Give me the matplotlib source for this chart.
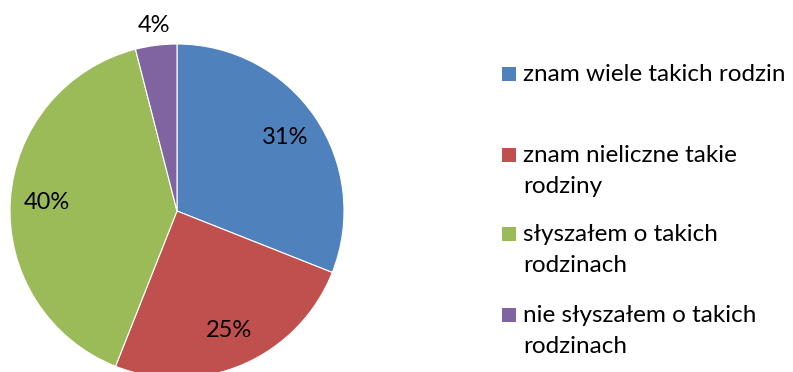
import numpy as np
import matplotlib.pyplot as plt
from matplotlib.patches import Rectangle

# shares of answers (percent)
labels = ["znam wiele takich rodzin", "znam nieliczne takie\nrodziny",
          "słyszałem o takich\nrodzinach", "nie słyszałem o takich\nrodzinach"]
shares = [31, 25, 40, 4]
colors = ["#4F81BD", "#C0504D", "#9BBB59", "#8064A2"]

plt.rcParams['font.family'] = ['Lato', 'DejaVu Sans']

fig = plt.figure(figsize=(7.93, 3.72), dpi=100)
ax = fig.add_axes([0, 0, 1, 1])

cx, cy, r = 177, 161, 167
wedges, texts, pcts = ax.pie(shares, colors=colors, startangle=90, counterclock=False,
                             center=(cx, cy), radius=r, autopct='%d%%',
                             pctdistance=0.78, frame=True,
                             wedgeprops=dict(edgecolor='white', linewidth=0.8),
                             textprops=dict(fontsize=17, color='black'))
ax.set_xlim(0, 793)
ax.set_ylim(0, 372)
ax.set_aspect('equal')
ax.axis('off')

# small slice label sits outside the pie
w = wedges[3]
mid = np.deg2rad((w.theta1 + w.theta2) / 2)
pcts[3].set_position((cx + 1.12 * r * np.cos(mid), cy + 1.12 * r * np.sin(mid)))

# legend drawn by hand, one text per line so the first line sits next to the box
legend_y = [298, 217, 138, 57]
for lab, col, y in zip(labels, colors, legend_y):
    ax.add_patch(Rectangle((502, y - 7), 14, 14, facecolor=col, edgecolor='none'))
    for i, line in enumerate(lab.split('\n')):
        ax.text(523, y - 7 - 31 * i, line, fontsize=17.5, va='baseline', ha='left')

fig.savefig('out.png', dpi=100)
